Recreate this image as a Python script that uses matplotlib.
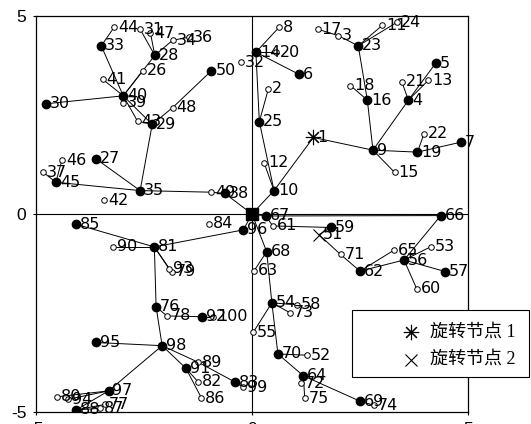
import matplotlib
matplotlib.use("Agg")
import matplotlib.pyplot as plt
from matplotlib.lines import Line2D
from matplotlib.patches import Rectangle

# Node identifiers and their planar coordinates
node_ids = list(range(1, 101))
node_x = [1.42, 0.38, 1.99, 3.62, 4.25, 1.09, 4.83, 0.63, 2.80, 0.51,
          3.02, 0.28, 4.08, 0.09, 3.30, 2.67, 1.52, 2.28, 3.83, 0.55,
          3.47, 3.98, 2.46, 3.35, 0.17, -2.53, -3.61, -2.25, -2.31, -4.76,
          -2.59, -0.26, -3.49, -1.84, -2.59, -1.45, -4.83, -0.63, -2.99, -2.98,
          -3.46, -3.42, -2.65, -3.19, -4.54, -4.40, -2.35, -1.84, -0.95, -0.94,
          1.55, 1.28, 4.15, 0.46, 0.03, 3.52, 4.47, 1.05, 1.83, 3.81,
          0.48, 2.50, 0.05, 1.19, 3.29, 4.37, 0.32, 0.34, 2.50, 0.60,
          2.05, 1.13, 0.88, 2.82, 1.22, -2.22, -3.40, -1.97, -1.86, -4.52,
          -2.26, -1.25, -0.39, -1.00, -4.07, -1.17, -3.52, -4.07, -1.24, -3.21,
          -1.53, -1.16, -1.92, -4.25, -3.61, -0.20, -3.32, -2.08, -0.20, -0.90]
node_y = [1.93, 3.16, 4.50, 2.87, 3.80, 3.52, 1.81, 4.71, 1.61, 0.59,
          4.76, 1.29, 3.37, 4.08, 1.05, 2.87, 4.66, 3.24, 1.56, 4.08,
          3.33, 2.02, 4.24, 4.83, 2.33, 3.61, 1.39, 4.00, 2.26, 2.78,
          4.66, 3.82, 4.24, 4.38, 0.59, 4.46, 1.05, 0.52, 2.80, 2.98,
          3.40, 0.35, 2.34, 4.71, 0.80, 1.36, 4.56, 2.68, 0.55, 3.61,
          -0.52, -3.56, -0.82, -2.24, -2.98, -1.16, -1.45, -2.29, -0.34, -1.88,
          -0.30, -1.44, -1.43, -4.08, -0.91, -0.04, -0.05, -0.95, -4.72, -3.53,
          -1.02, -4.27, -2.49, -4.82, -4.65, -2.34, -4.80, -2.57, -1.46, -4.61,
          -0.83, -4.23, -4.24, -0.25, -0.26, -4.64, -4.90, -4.94, -3.74, -0.83,
          -3.89, -2.59, -1.38, -4.67, -3.24, -0.40, -4.46, -3.32, -4.37, -2.59]
# f = filled node, o = open node, * = rotation node 1, x = rotation node 2
node_kind = ["*", "o", "o", "f", "f", "f", "f", "o", "f", "f",
             "o", "o", "o", "f", "o", "f", "o", "o", "f", "o",
             "o", "o", "f", "o", "f", "o", "f", "f", "f", "f",
             "o", "o", "f", "o", "f", "o", "o", "f", "o", "f",
             "o", "o", "o", "o", "f", "o", "o", "o", "o", "f",
             "x", "o", "o", "f", "o", "f", "f", "o", "f", "o",
             "o", "f", "o", "f", "o", "f", "f", "f", "f", "f",
             "o", "o", "o", "o", "o", "f", "o", "o", "o", "o",
             "f", "o", "f", "o", "f", "o", "o", "f", "o", "o",
             "f", "f", "o", "o", "f", "f", "f", "f", "o", "o"]
root_xy = (0.0, 0.0)

# Tree links (0 denotes the root node)
edges = [(0, 38), (38, 49), (49, 35), (35, 29), (35, 27), (35, 45), (45, 37),
         (45, 46), (29, 43), (43, 40), (29, 40), (29, 48), (48, 50),
         (40, 39), (40, 41), (40, 33), (33, 44), (40, 30), (40, 26), (40, 28),
         (28, 31), (28, 47), (28, 34), (34, 36),
         (0, 10), (10, 12), (10, 25), (25, 2), (25, 14), (14, 8), (14, 20),
         (14, 6), (10, 1), (1, 9), (9, 16), (16, 18), (16, 23), (23, 3),
         (3, 17), (23, 11), (23, 24), (9, 4), (4, 21), (4, 13), (4, 5),
         (9, 19), (19, 22), (19, 7), (9, 15),
         (0, 67), (67, 66), (67, 61), (61, 59), (59, 51), (51, 71), (71, 62),
         (62, 65), (62, 56), (56, 66), (56, 53), (56, 57), (56, 60),
         (0, 68), (68, 63), (68, 54), (54, 55), (54, 58), (54, 73), (54, 70),
         (70, 52), (70, 64), (64, 72), (64, 75), (64, 69), (69, 74),
         (0, 96), (96, 81), (81, 85), (81, 90), (81, 93), (81, 79),
         (81, 76), (76, 78), (78, 92), (92, 100), (76, 98), (98, 95),
         (98, 91), (91, 82), (91, 86), (98, 89), (89, 83), (83, 99),
         (98, 97), (97, 80), (97, 94), (97, 88), (88, 87), (88, 77)]

legend_labels = ["旋转节点 1", "旋转节点 2"]

W, H = 531, 424
fig = plt.figure(figsize=(W / 100, H / 100), dpi=100)
ax = fig.add_axes([36 / W, 1 - 412.3 / H, 432 / W, 396.6 / H])

def pos(i):
    if i == 0:
        return root_xy
    return node_x[i - 1], node_y[i - 1]

STAR = (8, 2, 0)

ax.axhline(0, color="black", lw=0.8, zorder=1)
ax.axvline(0, color="black", lw=0.8, zorder=1)

for a, b in edges:
    xa, ya = pos(a)
    xb, yb = pos(b)
    ax.plot([xa, xb], [ya, yb], color="black", lw=0.7, zorder=2)

for nid, x, y, k in zip(node_ids, node_x, node_y, node_kind):
    if k == "f":
        ax.plot(x, y, "o", ms=6, mfc="black", mec="black", zorder=3)
    elif k == "o":
        ax.plot(x, y, "o", ms=4, mfc="white", mec="black", mew=0.7, zorder=3)
    elif k == "*":
        ax.plot(x, y, marker=STAR, ms=11, color="black", mew=0.8, zorder=3)
    elif k == "x":
        ax.plot(x, y, "x", ms=9, color="black", mew=0.8, zorder=3)
    ax.text(x + 0.09, y, str(nid), fontsize=11.5, family="DejaVu Sans",
            ha="left", va="center", zorder=4)

ax.plot(*root_xy, "s", ms=9, color="black", zorder=5)

ax.set_xlim(-5, 5)
ax.set_ylim(-5, 5)
ax.set_xticks([-5, 0, 5])
ax.set_yticks([-5, 0, 5])
ax.set_xticklabels(["-5", "0", "5"])
ax.set_yticklabels(["-5", "0", "5"])
ax.tick_params(direction="out", length=2, width=0.8, labelsize=12.5, pad=5)
for lbl in ax.get_xticklabels() + ax.get_yticklabels():
    lbl.set_family("Liberation Sans")
for s in ax.spines.values():
    s.set_linewidth(0.9)

# Legend box drawn in figure pixel space
def fx(px):
    return px / W

def fy(py):
    return 1 - py / H

fig.add_artist(Rectangle((fx(352), fy(377)), fx(529) - fx(352), fy(310) - fy(377),
                         transform=fig.transFigure, facecolor="white",
                         edgecolor="black", lw=0.8, zorder=10))
leg_markers = [dict(marker=STAR, ms=11, mew=0.8), dict(marker="x", ms=9, mew=0.8)]
for row, (lab, mk) in enumerate(zip(legend_labels, leg_markers)):
    yy = fy(332 + row * 27.5)
    fig.add_artist(Line2D([fx(410.5)], [yy], transform=fig.transFigure,
                          ls="none", color="black", zorder=11, **mk))
    fig.text(fx(430), yy, lab, ha="left", va="center", fontsize=13,
             family=["Liberation Serif", "Noto Sans CJK SC"], zorder=11)

fig.savefig("out.png", dpi=100)
